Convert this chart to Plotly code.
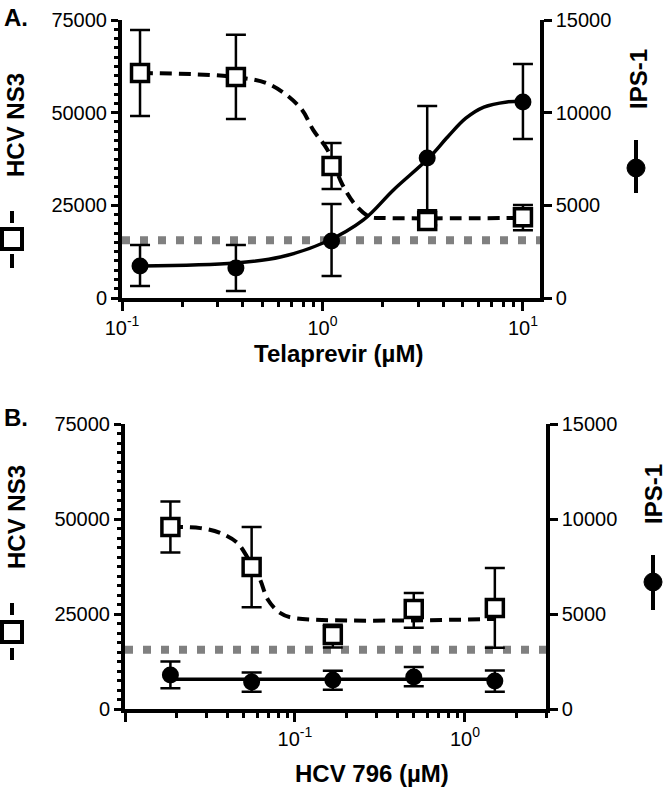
import plotly.graph_objects as go

W, H = 666, 788

# ---------------- Panel A data (Telaprevir) ----------------
tel_conc = [0.123, 0.37, 1.11, 3.33, 10]
tel_ns3 = [60700, 59600, 35600, 20800, 21800]
tel_ns3_plus = [11600, 11400, 6200, 1200, 3300]
tel_ns3_minus = [11600, 11300, 6200, 1200, 3500]
tel_ips = [1730, 1620, 3075, 7550, 10580]
tel_ips_plus = [1130, 1240, 2000, 2810, 2050]
tel_ips_minus = [1080, 1240, 1885, 2810, 2000]

# fitted curves
tel_ns3_fit_x = [0.124, 0.37, 0.55, 0.776, 0.90, 1.06, 1.26, 1.46, 1.72, 2.02, 10]
tel_ns3_fit_y = [60700, 59600, 57500, 51300, 45300, 39900, 30500, 25100, 21900, 21600, 21600]
tel_ips_fit_x = [0.1245, 0.367, 0.617, 1.035, 1.60, 2.26, 3.39, 4.22, 5.19, 6.38, 8.32, 10]
tel_ips_fit_y = [1730, 1890, 2210, 3020, 4210, 5830, 7550, 8700, 9700, 10300, 10580, 10620]

# ---------------- Panel B data (HCV 796) ----------------
hcv_conc = [0.0185, 0.0556, 0.167, 0.5, 1.5]
hcv_ns3 = [47900, 37400, 19500, 26300, 26600]
hcv_ns3_plus = [6700, 10500, 2700, 4200, 10500]
hcv_ns3_minus = [6700, 10600, 3300, 4900, 10500]
hcv_ips = [1790, 1420, 1530, 1680, 1470]
hcv_ips_plus = [710, 500, 480, 530, 550]
hcv_ips_minus = [700, 510, 520, 480, 560]

hcv_ns3_fit_x = [0.0186, 0.0278, 0.0364, 0.0458, 0.0524, 0.0567, 0.0624, 0.0695, 0.0817, 0.0973, 1.5]
hcv_ns3_fit_y = [47900, 47600, 46300, 43700, 40000, 37400, 34000, 28700, 25300, 24000, 23700]
hcv_ips_fit_x = [0.0185, 1.5]
hcv_ips_fit_y = [1570, 1570]

threshold_ns3 = 15600

# tick labels
a_x_ticks = [0.1, 1, 10]
a_x_labels = ["10<sup>-1</sup>", "10<sup>0</sup>", "10<sup>1</sup>"]
a_x_minor = [0.2, 0.3, 0.4, 0.5, 0.6, 0.7, 0.8, 0.9, 2, 3, 4, 5, 6, 7, 8, 9]
b_x_ticks = [0.01, 0.1, 1]
b_x_labels = [" ", "10<sup>-1</sup>", "10<sup>0</sup>"]
b_x_minor = [0.02, 0.03, 0.04, 0.05, 0.06, 0.07, 0.08, 0.09,
             0.2, 0.3, 0.4, 0.5, 0.6, 0.7, 0.8, 0.9, 2, 3]
left_ticks = [0, 25000, 50000, 75000]
left_labels = ["0", "25000", "50000", "75000"]
left_minor = list(range(0, 75001, 2500))
right_ticks = [0, 5000, 10000, 15000]
right_labels = ["0", "5000", "10000", "15000"]

FONT = "Arial, Liberation Sans, Helvetica, sans-serif"

fig = go.Figure()

err_style = dict(type="data", symmetric=False, color="black", thickness=2.5, width=10)


def add_panel(xa, ya_left, ya_right, conc, ns3, ns3p, ns3m, ips, ipsp, ipsm,
              nfx, nfy, ifx, ify):
    # IPS-1 fit (solid) and points
    fig.add_trace(go.Scatter(x=ifx, y=ify, mode="lines", xaxis=xa, yaxis=ya_right,
                             line=dict(color="black", width=3.5, shape="spline"),
                             showlegend=False, hoverinfo="skip"))
    fig.add_trace(go.Scatter(x=conc, y=ips, mode="markers", xaxis=xa, yaxis=ya_right,
                             marker=dict(symbol="circle", size=17, color="black"),
                             error_y=dict(array=ipsp, arrayminus=ipsm, **err_style),
                             showlegend=False))
    # NS3 fit (dashed) and points
    fig.add_trace(go.Scatter(x=nfx, y=nfy, mode="lines", xaxis=xa, yaxis=ya_left,
                             line=dict(color="black", width=4, shape="spline", dash="12px,7px"),
                             showlegend=False, hoverinfo="skip"))
    fig.add_trace(go.Scatter(x=conc, y=ns3, mode="markers", xaxis=xa, yaxis=ya_left,
                             marker=dict(symbol="square", size=17, color="white",
                                         line=dict(color="black", width=3.5)),
                             error_y=dict(array=ns3p, arrayminus=ns3m, **err_style),
                             showlegend=False))


add_panel("x", "y", "y2", tel_conc, tel_ns3, tel_ns3_plus, tel_ns3_minus,
          tel_ips, tel_ips_plus, tel_ips_minus,
          tel_ns3_fit_x, tel_ns3_fit_y, tel_ips_fit_x, tel_ips_fit_y)
add_panel("x2", "y3", "y4", hcv_conc, hcv_ns3, hcv_ns3_plus, hcv_ns3_minus,
          hcv_ips, hcv_ips_plus, hcv_ips_minus,
          hcv_ns3_fit_x, hcv_ns3_fit_y, hcv_ips_fit_x, hcv_ips_fit_y)

tickfont = dict(family=FONT, size=20, color="black")


def xaxis_cfg(dom, anchor, rng, tv, tt, minor):
    return dict(domain=dom, anchor=anchor, type="log", range=rng, automargin=False,
                showline=True, linewidth=3.5, linecolor="black", mirror=False,
                ticks="outside", ticklen=9, tickwidth=3, tickcolor="black",
                tickmode="array", tickvals=tv, ticktext=tt, tickfont=tickfont,
                minor=dict(tickmode="array", tickvals=minor, ticks="outside",
                           ticklen=5, tickwidth=3, tickcolor="black", showgrid=False),
                showgrid=False, zeroline=False)


def yleft_cfg(dom, anchor):
    return dict(domain=dom, anchor=anchor, range=[0, 75000], automargin=False,
                showline=True, linewidth=4, linecolor="black",
                ticks="outside", ticklen=7, tickwidth=3, tickcolor="black",
                tickmode="array", tickvals=left_ticks, ticktext=left_labels,
                tickfont=tickfont,
                minor=dict(tickmode="array", tickvals=left_minor, ticks="outside",
                           ticklen=4, tickwidth=3, tickcolor="black", showgrid=False),
                showgrid=False, zeroline=False)


def yright_cfg(over, anchor):
    return dict(overlaying=over, anchor=anchor, side="right", range=[0, 15000],
                automargin=False,
                showline=True, linewidth=3.5, linecolor="black",
                ticks="outside", ticklen=8, tickwidth=3, tickcolor="black",
                tickmode="array", tickvals=right_ticks, ticktext=right_labels,
                tickfont=tickfont, showgrid=False, zeroline=False)


def px(x):
    return x / W


def py(y):
    return 1 - y / H


fig.update_layout(
    width=W, height=H,
    margin=dict(l=0, r=0, t=0, b=0, pad=0, autoexpand=False),
    paper_bgcolor="white", plot_bgcolor="white",
    showlegend=False,
    font=dict(family=FONT, color="black"),
    xaxis=xaxis_cfg([px(122), px(540)], "y", [-1, 1.0851], a_x_ticks, a_x_labels, a_x_minor),
    yaxis=yleft_cfg([py(298), py(20)], "x"),
    yaxis2=yright_cfg("y", "x"),
    xaxis2=xaxis_cfg([px(125), px(546)], "y3", [-2, 0.4771], b_x_ticks, b_x_labels, b_x_minor),
    yaxis3=yleft_cfg([py(709), py(424)], "x2"),
    yaxis4=yright_cfg("y3", "x2"),
)

shapes = []
# grey dotted threshold lines
for xr, yr in [("x domain", "y"), ("x2 domain", "y3")]:
    shapes.append(dict(type="line", xref=xr, yref=yr, x0=0, x1=1,
                       y0=threshold_ns3, y1=threshold_ns3, layer="below",
                       line=dict(color="#808080", width=8, dash="8px,10px")))


def vseg(cx, y0, y1, width=4):
    # vertical segment in pixel coordinates
    return dict(type="line", xref="paper", yref="paper", x0=px(cx), x1=px(cx),
                y0=py(y0), y1=py(y1), line=dict(color="black", width=width))


def sq(cx, cy, half=10):
    return dict(type="rect", xref="paper", yref="paper",
                xsizemode="pixel", ysizemode="pixel", xanchor=px(cx), yanchor=py(cy),
                x0=-half, x1=half, y0=-half, y1=half,
                fillcolor="white", line=dict(color="black", width=4))


def circ(cx, cy, r=9):
    return dict(type="circle", xref="paper", yref="paper",
                xsizemode="pixel", ysizemode="pixel", xanchor=px(cx), yanchor=py(cy),
                x0=-r, x1=r, y0=-r, y1=r,
                fillcolor="black", line=dict(color="black", width=1))


# legend-like symbols beside the axis titles
shapes += [vseg(12, 211, 223), vseg(12, 254, 268), sq(12, 239)]
shapes += [vseg(636, 140, 193), circ(636, 168)]
shapes += [vseg(12, 603, 615), vseg(12, 648, 660), sq(12, 632)]
shapes += [vseg(653, 555, 610), circ(653, 582)]
fig.update_layout(shapes=shapes)

title_font = dict(family=FONT, size=24, color="black")
annotations = [
    dict(text="<b>A.</b>", x=px(2), y=py(2), xanchor="left", yanchor="top"),
    dict(text="<b>B.</b>", x=px(2), y=py(402), xanchor="left", yanchor="top"),
    dict(text="<b>HCV NS3</b>", x=px(16), y=py(125), textangle=-90),
    dict(text="<b>HCV NS3</b>", x=px(16), y=py(517), textangle=-90),
    dict(text="<b>IPS-1</b>", x=px(638), y=py(79), textangle=-90),
    dict(text="<b>IPS-1</b>", x=px(653), y=py(494), textangle=-90),
    dict(text="<b>Telaprevir (µM)</b>", x=px(338), y=py(353)),
    dict(text="<b>HCV 796 (µM)</b>", x=px(372), y=py(773)),
]
for a in annotations:
    a.update(xref="paper", yref="paper", showarrow=False, font=title_font)
    a.setdefault("xanchor", "center")
    a.setdefault("yanchor", "middle")
fig.update_layout(annotations=annotations)

fig.write_html("out.html",
               config={"displayModeBar": False},
               post_script="document.body.style.margin='0';document.body.style.padding='0';")
